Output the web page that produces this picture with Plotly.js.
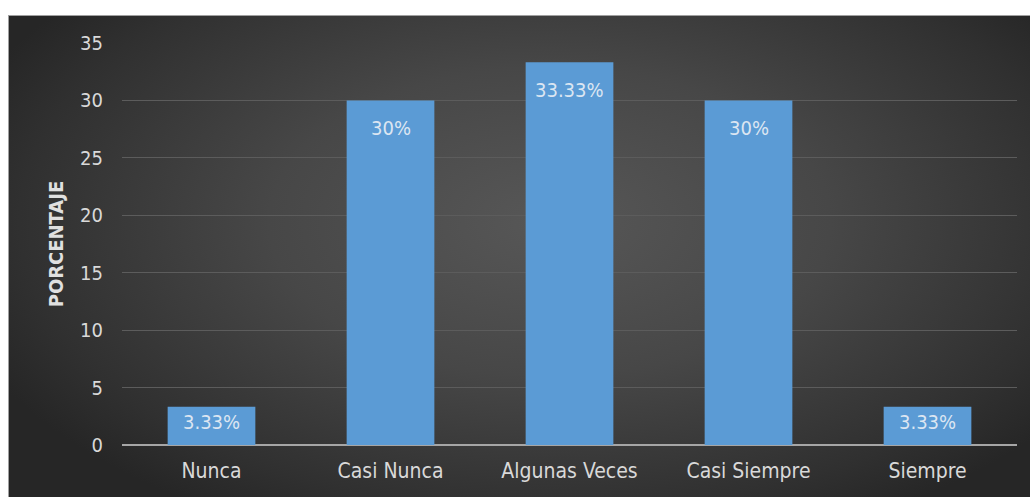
<!DOCTYPE html>
<html>
<head>
<meta charset="utf-8">
<script src="https://cdn.plot.ly/plotly-3.0.1.min.js"></script>
<style>
  html, body { margin: 0; padding: 0; background: #ffffff; overflow: hidden; }
  #wrap { position: relative; width: 1030px; height: 497px; overflow: hidden; }
  #bg { position: absolute; left: 8px; top: 15px; width: 1040px; height: 490px;
        background: radial-gradient(ellipse 60% 70% at 52% 42%, #575757 0%, #474747 45%, #303030 85%, #262626 100%);
        border-top: 1px solid #a0a0a0; border-left: 1px solid #a0a0a0; }
  #chart { position: absolute; left: 0; top: 0; width: 1030px; height: 497px; }
</style>
</head>
<body>
<div id="wrap"><div id="bg"></div><div id="chart"></div></div>
<script>
const categories = ["Nunca", "Casi Nunca", "Algunas Veces", "Casi Siempre", "Siempre"];
const values = [3.33, 30, 33.33, 30, 3.33];
const labels = ["3.33%", "30%", "33.33%", "30%", "3.33%"];
const yTicks = [0, 5, 10, 15, 20, 25, 30, 35];

const font = "'DejaVu Sans Condensed', 'Liberation Sans Narrow', 'Open Sans', sans-serif";

const trace = {
  type: "bar",
  x: categories,
  y: values,
  marker: { color: "#5b9bd5", line: { width: 0 } },
  hoverinfo: "none"
};

const annotations = categories.map((c, i) => ({
  x: c, y: values[i], xref: "x", yref: "y",
  text: labels[i], showarrow: false,
  yanchor: "middle", yshift: values[i] > 10 ? -28 : -15,
  font: { family: font, size: 20, color: "#dce6f2" }
}));

const layout = {
  width: 1030, height: 497,
  margin: { l: 122, r: 13, t: 43, b: 52 },
  paper_bgcolor: "rgba(0,0,0,0)",
  plot_bgcolor: "rgba(0,0,0,0)",
  showlegend: false,
  bargap: 0.51,
  font: { family: font, color: "#d9d9d9" },
  xaxis: {
    showgrid: false, showline: false, zeroline: false,
    ticks: "", tickfont: { size: 21, color: "#d9d9d9" },
    ticklabelstandoff: 11
  },
  yaxis: {
    range: [0, 35], tickvals: yTicks, ticktext: yTicks.map(String),
    showgrid: true, gridcolor: "#5c5c5c", gridwidth: 1,
    zeroline: true, zerolinecolor: "#a6a6a6", zerolinewidth: 1.5,
    showline: false, ticks: "",
    tickfont: { size: 20, color: "#d9d9d9" },
    ticklabelstandoff: 18,
    title: { text: "PORCENTAJE", font: { size: 20, color: "#e0e0e0", family: font, weight: "bold" }, standoff: 11 }
  },
  annotations: annotations
};

Plotly.newPlot("chart", [trace], layout, { displayModeBar: false, staticPlot: true });
</script>
</body>
</html>
